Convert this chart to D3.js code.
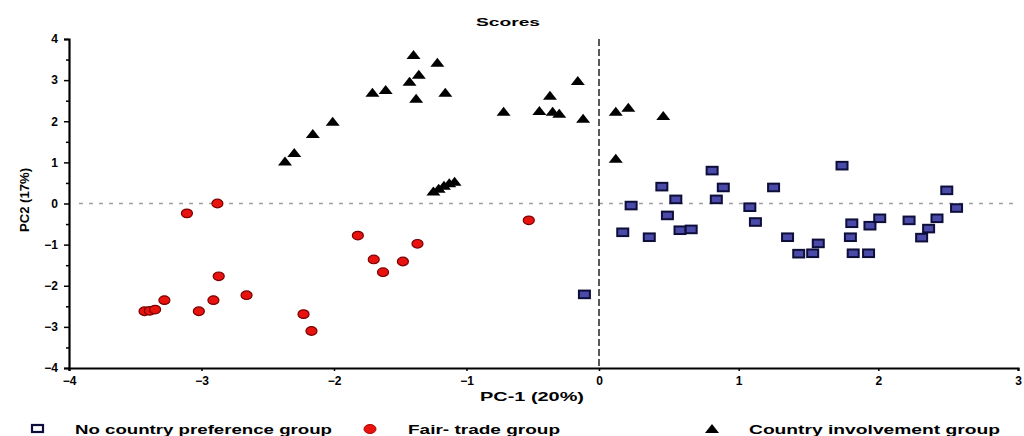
<!DOCTYPE html>
<html><head><meta charset="utf-8">
<script src="https://cdn.jsdelivr.net/npm/d3@7"></script>
<style>
html,body{margin:0;padding:0;background:#fff;}
svg{display:block;font-family:"Liberation Sans",Arial,sans-serif;font-weight:bold;}
</style></head>
<body><svg id="c" width="1024" height="436"></svg>
<script>
// ---- data ----
const xTicks = [-4,-3,-2,-1,0,1,2,3];
const yTicks = [-4,-3,-2,-1,0,1,2,3,4];
const noPrefX = [1.74,0.81,0.45,0.89,1.25,2.49,0.55,0.84,0.23,1.08,2.56,0.49,1.12,1.81,1.94,2.01,2.22,2.42,2.36,2.31,0.17,0.36,0.58,0.66,1.35,1.80,1.57,1.43,1.53,1.82,1.93,-0.11];
const noPrefY = [0.92,0.80,0.41,0.39,0.39,0.32,0.10,0.10,-0.05,-0.09,-0.11,-0.29,-0.45,-0.48,-0.54,-0.36,-0.41,-0.36,-0.61,-0.83,-0.70,-0.82,-0.65,-0.63,-0.82,-0.82,-0.97,-1.22,-1.21,-1.21,-1.21,-2.21];
const fairX = [-3.11,-2.88,-2.87,-2.66,-2.91,-3.02,-3.28,-3.43,-3.39,-3.35,-2.23,-2.17,-1.82,-1.37,-1.70,-1.48,-1.63,-0.53];
const fairY = [-0.24,0.00,-1.77,-2.23,-2.35,-2.62,-2.35,-2.62,-2.61,-2.58,-2.69,-3.10,-0.78,-0.98,-1.36,-1.41,-1.67,-0.41];
const involX = [-2.37,-2.30,-2.16,-2.01,-1.71,-1.61,-1.40,-1.22,-1.36,-1.43,-1.38,-1.16,-0.72,-0.45,-0.37,-0.35,-0.30,-0.16,-0.12,0.12,0.21,0.46,0.12,-1.25,-1.21,-1.17,-1.13,-1.09];
const involY = [1.02,1.23,1.69,1.99,2.69,2.76,3.61,3.42,3.13,2.96,2.55,2.69,2.23,2.25,2.62,2.23,2.18,2.98,2.06,2.23,2.33,2.13,1.09,0.29,0.36,0.43,0.49,0.53];
const legendLabels = ["No country preference group","Fair- trade group","Country involvement group"];
const title = "Scores";
const xLabel = "PC-1 (20%)";
const yLabel = "PC2 (17%)";

// ---- chart ----
const svg = d3.select("#c");
const x = d3.scaleLinear().domain([-4,0,3]).range([69,599,1018]);
const y = d3.scaleLinear().domain([-4,4]).range([368,39]);

// zero reference lines
svg.append("line").attr("x1",x(-4)+10).attr("x2",x(3)).attr("y1",y(0)).attr("y2",y(0))
  .attr("stroke","#a0a0a0").attr("stroke-width",1.5).attr("stroke-dasharray","4,6");
svg.append("line").attr("x1",x(0)).attr("x2",x(0)).attr("y1",y(4)).attr("y2",y(-4))
  .attr("stroke","#222").attr("stroke-width",1.5).attr("stroke-dasharray","7,3");

// axes
const gy = svg.append("g").attr("transform",`translate(${x(-4)},0)`)
  .call(d3.axisLeft(y).tickValues(yTicks).tickSize(5).tickPadding(6).tickFormat(d3.format("d")));
const gyMinor = svg.append("g").attr("transform",`translate(${x(-4)},0)`)
  .call(d3.axisLeft(y).tickValues(d3.range(-3.5,4,1)).tickSize(3).tickFormat(""));
gyMinor.select(".domain").remove();
const gx = svg.append("g").attr("transform",`translate(0,${y(-4)})`)
  .call(d3.axisBottom(x).tickValues(xTicks).tickSize(3).tickPadding(5).tickFormat(d3.format("d")));
[gy,gyMinor,gx].forEach(g=>{
  g.selectAll(".domain").attr("stroke","#000").attr("stroke-width",2.2);
  g.selectAll(".tick line").attr("stroke","#000").attr("stroke-width",1.5);
  g.selectAll("text").attr("font-family","Liberation Sans, Arial, sans-serif")
    .attr("font-weight","bold").attr("font-size",12).attr("fill","#000");
});

// title and axis labels
svg.append("text").attr("x",508).attr("y",26).attr("text-anchor","middle")
  .attr("font-size",11.5).attr("textLength",64).attr("lengthAdjust","spacingAndGlyphs").text(title);
svg.append("text").attr("x",532).attr("y",401).attr("text-anchor","middle")
  .attr("font-size",12).attr("textLength",104).attr("lengthAdjust","spacingAndGlyphs").text(xLabel);
svg.append("text").attr("transform","translate(29,200) rotate(-90)").attr("text-anchor","middle")
  .attr("font-size",12).attr("textLength",64).attr("lengthAdjust","spacingAndGlyphs").text(yLabel);

// markers
const triPath = "M0,-5L7,4L-7,4Z";
const marks = svg.append("g");
marks.selectAll("path.tri").data(d3.zip(involX,involY)).join("path").attr("class","tri")
  .attr("d",triPath).attr("fill","#000")
  .attr("transform",d=>`translate(${x(d[0])},${y(d[1])})`);
marks.selectAll("ellipse").data(d3.zip(fairX,fairY)).join("ellipse")
  .attr("cx",d=>x(d[0])).attr("cy",d=>y(d[1])).attr("rx",5.5).attr("ry",4.3)
  .attr("fill","#e8120f").attr("stroke","#7a0000").attr("stroke-width",1.2);
marks.selectAll("rect.sq").data(d3.zip(noPrefX,noPrefY)).join("rect").attr("class","sq")
  .attr("x",d=>x(d[0])-5.5).attr("y",d=>y(d[1])-3.8).attr("width",11).attr("height",7.6)
  .attr("fill","#4a4aa8").attr("stroke","#0e0e3a").attr("stroke-width",2);

// legend
const lg = svg.append("g");
lg.append("rect").attr("x",32).attr("y",425).attr("width",11).attr("height",7)
  .attr("fill","#fff").attr("stroke","#0e0e3a").attr("stroke-width",2.2);
lg.append("text").attr("x",75).attr("y",434).attr("font-size",12)
  .attr("textLength",257).attr("lengthAdjust","spacingAndGlyphs").text(legendLabels[0]);
lg.append("ellipse").attr("cx",370).attr("cy",429).attr("rx",6).attr("ry",4.5)
  .attr("fill","#e8120f").attr("stroke","#b00000");
lg.append("text").attr("x",408).attr("y",434).attr("font-size",12)
  .attr("textLength",152).attr("lengthAdjust","spacingAndGlyphs").text(legendLabels[1]);
lg.append("path").attr("d",triPath).attr("transform","translate(712,429)").attr("fill","#000");
lg.append("text").attr("x",749).attr("y",434).attr("font-size",12)
  .attr("textLength",251).attr("lengthAdjust","spacingAndGlyphs").text(legendLabels[2]);
</script></body></html>
